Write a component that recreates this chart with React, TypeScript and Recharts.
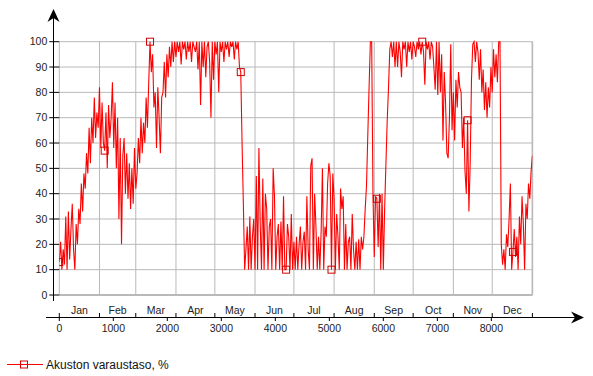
import React from 'react';
import { LineChart, Line, XAxis, YAxis, CartesianGrid, ReferenceLine, Legend } from 'recharts';

// one reading per day (hour = index * 24), state of charge in %
const STEP_HOURS = 24;

const socValues = [
  13, 21, 10, 18, 12, 31, 10, 33, 14, 26,
  36, 18, 10, 28, 20, 34, 28, 44, 33, 48,
  42, 56, 48, 66, 52, 70, 60, 78, 62, 72,
  66, 82, 58, 76, 60, 57, 72, 50, 75, 62,
  70, 84, 58, 76, 50, 70, 30, 62, 20, 55,
  62, 40, 56, 38, 52, 34, 50, 36, 58, 42,
  48, 62, 52, 70, 56, 68, 60, 78, 66, 84,
  100, 88, 95, 74, 80, 58, 82, 70, 56, 78,
  80, 92, 78, 95, 86, 98, 90, 100, 92, 100,
  94, 100, 96, 100, 91, 100, 97, 100, 93, 100,
  96, 100, 92, 100, 98, 96, 100, 89, 100, 75,
  100, 90, 100, 86, 98, 100, 92, 70, 100, 85,
  100, 95, 100, 80, 100, 96, 100, 92, 100, 97,
  100, 94, 100, 98, 100, 93, 100, 97, 100, 90,
  88, 60, 36, 10, 18, 27, 10, 31, 10, 23,
  30, 10, 47, 10, 58, 28, 10, 46, 10, 40,
  34, 10, 27, 30, 10, 50, 39, 10, 23, 28,
  10, 29, 10, 39, 10, 10, 28, 23, 10, 32,
  10, 21, 10, 23, 10, 20, 27, 10, 21, 25,
  10, 39, 18, 10, 51, 54, 10, 40, 27, 10,
  23, 10, 25, 50, 10, 27, 23, 44, 52, 47,
  10, 48, 38, 10, 32, 23, 10, 42, 34, 39,
  10, 28, 10, 21, 23, 10, 32, 18, 10, 21,
  10, 22, 10, 23, 18, 23, 34, 43, 63, 82,
  100, 100, 40, 15, 39, 38, 19, 40, 10, 40,
  10, 34, 52, 69, 82, 97, 100, 94, 100, 90,
  100, 90, 100, 96, 86, 100, 97, 100, 90, 100,
  96, 100, 93, 100, 98, 94, 100, 97, 100, 95,
  100, 96, 83, 100, 97, 100, 93, 100, 98, 90,
  81, 100, 79, 100, 80, 95, 61, 88, 76, 56,
  54, 70, 99, 65, 80, 61, 85, 74, 88, 82,
  80, 58, 70, 49, 40, 69, 33, 52, 85, 99,
  100, 92, 100, 96, 85, 97, 80, 89, 73, 84,
  70, 82, 74, 90, 80, 97, 86, 95, 84, 100,
  100, 20, 12, 18, 10, 24, 19, 30, 44, 10,
  17, 26, 15, 23, 10, 31, 20, 39, 28, 10,
  36, 30, 44, 38, 49, 55,
];

// hours at which a square marker is visible in the reference
const markerHours = [0, 840, 1680, 3360, 4200, 5040, 5880, 6720, 7560, 8400];

const monthNames = ['Jan', 'Feb', 'Mar', 'Apr', 'May', 'Jun', 'Jul', 'Aug', 'Sep', 'Oct', 'Nov', 'Dec'];
const monthStartHours = [0, 744, 1416, 2160, 2880, 3624, 4344, 5088, 5832, 6552, 7296, 8016, 8760];
const hourTicks = [0, 1000, 2000, 3000, 4000, 5000, 6000, 7000, 8000];
const percentTicks = [0, 10, 20, 30, 40, 50, 60, 70, 80, 90, 100];
const seriesName = 'Akuston varaustaso, %';

const data = socValues.map((v, i) => ({ hour: i * STEP_HOURS, soc: v }));
const monthMidHours = monthNames.map((_, i) => (monthStartHours[i] + monthStartHours[i + 1]) / 2);
const xTicks = Array.from(new Set([...hourTicks, ...monthStartHours, ...monthMidHours])).sort((a, b) => a - b);

const FONT = '"Liberation Sans", Arial, sans-serif';
const RED = '#ff0000';
const MARK = '#d00000';
const GRID = '#b9b9b9';
const AXIS_GAP = 22;

const XTick = (props: any) => {
  const { x, y, payload } = props;
  const v = payload.value;
  const ay = y + AXIS_GAP;
  const mi = monthMidHours.indexOf(v);
  return (
    <g>
      {hourTicks.includes(v) && (
        <>
          <line x1={x} x2={x} y1={ay} y2={ay + 4} stroke="#000" />
          <text x={x} y={ay + 15} textAnchor="middle" fontSize={10.5} fontFamily={FONT} fill="#222">{v}</text>
        </>
      )}
      {monthStartHours.includes(v) && <line x1={x} x2={x} y1={ay - 4} y2={ay} stroke="#000" />}
      {mi >= 0 && (
        <text x={x} y={ay - 3.5} textAnchor="middle" fontSize={10.5} fontFamily={FONT} fill="#222">{monthNames[mi]}</text>
      )}
    </g>
  );
};

const YTick = (props: any) => {
  const { x, y, payload } = props;
  return (
    <g>
      <line x1={x - 10} x2={x} y1={y} y2={y} stroke="#000" />
      <text x={x - 12} y={y + 3.7} textAnchor="end" fontSize={10.5} fontFamily={FONT} fill="#222">{payload.value}</text>
    </g>
  );
};

const renderDot = (props: any) => {
  const { cx, cy, index, payload } = props;
  if (!markerHours.includes(payload.hour)) return <g key={`d${index}`} />;
  return <rect key={`d${index}`} x={cx - 3.5} y={cy - 3.5} width={7} height={7} fill="none" stroke={MARK} strokeWidth={1} />;
};

const renderLegend = () => (
  <svg width={220} height={20}>
    <line x1={7} x2={43} y1={10.5} y2={10.5} stroke={RED} />
    <rect x={20.5} y={7} width={7} height={7} fill="#fff" stroke={MARK} />
    <line x1={20.5} x2={27.5} y1={10.5} y2={10.5} stroke={RED} />
    <text x={46} y={14.5} fontSize={12} fontFamily={FONT} fill="#111">{seriesName}</text>
  </svg>
);

export default function App() {
  return (
    <div style={{ position: 'fixed', left: 0, top: 0, width: 593, height: 376, background: '#fff' }}>
      <LineChart width={593} height={376} data={data} margin={{ top: 41.7, right: 60.6, bottom: 41, left: 0.3 }}>
        <CartesianGrid stroke={GRID} horizontalValues={percentTicks} verticalValues={monthStartHours} />
        <XAxis
          dataKey="hour"
          type="number"
          domain={[0, 8760]}
          ticks={xTicks}
          interval={0}
          tickSize={0}
          tickMargin={0}
          axisLine={false}
          tickLine={false}
          height={40}
          tick={<XTick />}
          allowDataOverflow
        />
        <YAxis
          type="number"
          domain={[0, 100]}
          ticks={percentTicks}
          interval={0}
          width={59}
          tickSize={0}
          tickMargin={0}
          axisLine={false}
          tickLine={false}
          tick={<YTick />}
        />
        <ReferenceLine y={0} stroke={GRID} strokeWidth={2.2} />
        <ReferenceLine x={8760} stroke={GRID} strokeWidth={1.6} />
        <Line
          type="linear"
          dataKey="soc"
          name={seriesName}
          stroke={RED}
          strokeWidth={1.1}
          dot={renderDot}
          activeDot={false}
          isAnimationActive={false}
        />
        <Legend
          layout="horizontal"
          verticalAlign="middle"
          align="center"
          wrapperStyle={{ top: 354, left: 0, width: 220, height: 20 }}
          content={renderLegend}
        />
      </LineChart>
      <svg width={593} height={376} style={{ position: 'absolute', left: 0, top: 0, pointerEvents: 'none' }}>
        <line x1={53.5} x2={53.5} y1={14} y2={301} stroke="#000" />
        <path d="M53.5,9 L47.5,22 L53.5,18 L59.5,22 Z" fill="#000" />
        <line x1={46} x2={578} y1={317.5} y2={317.5} stroke="#000" />
        <path d="M584,317.5 L571,311.5 L575,317.5 L571,323.5 Z" fill="#000" />
      </svg>
    </div>
  );
}
